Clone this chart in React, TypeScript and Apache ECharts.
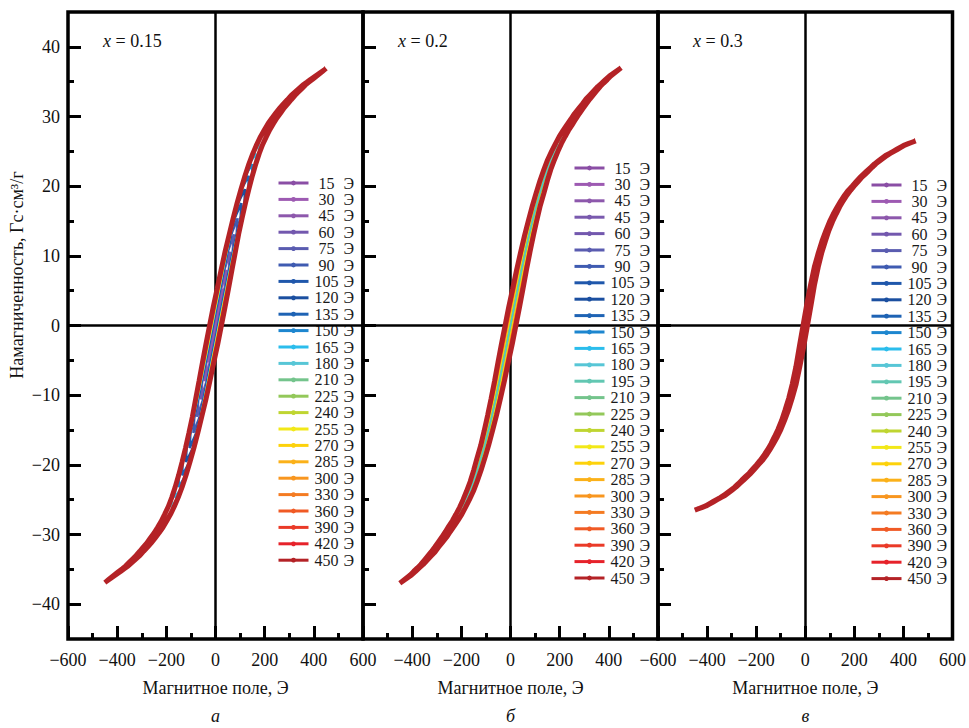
import React, { useEffect, useRef } from 'react';
import * as echarts from 'echarts';

// Field grid (Э) at which the magnetization curves were read
const FIELD_GRID = [0, 15, 30, 45, 60, 75, 90, 105, 120, 135, 150, 165, 180, 195, 210, 225, 240, 255, 270, 285, 300, 315, 330, 345, 360, 375, 390, 405, 420, 435, 450];

// Mid-line magnetization (Гс·см³/г)
const CURVE_015 = [0, 2.7, 5.3, 8.0, 10.6, 13.1, 15.4, 17.6, 19.6, 21.5, 23.2, 24.7, 26.0, 27.1, 28.1, 29.0, 29.8, 30.5, 31.2, 31.8, 32.4, 33.0, 33.5, 34.0, 34.5, 34.9, 35.3, 35.7, 36.1, 36.5, 36.9];
const CURVE_02 = [0, 2.7, 5.3, 8.0, 10.5, 12.9, 15.1, 17.2, 19.0, 20.8, 22.4, 23.8, 25.0, 26.1, 27.1, 28.0, 28.8, 29.6, 30.4, 31.1, 31.8, 32.5, 33.1, 33.7, 34.3, 34.8, 35.3, 35.8, 36.2, 36.6, 37.0];
const CURVE_03 = [0, 3.0, 5.9, 8.4, 10.4, 12.1, 13.6, 14.9, 16.0, 17.0, 17.9, 18.7, 19.4, 20.0, 20.6, 21.2, 21.7, 22.2, 22.7, 23.2, 23.6, 24.0, 24.4, 24.7, 25.0, 25.3, 25.6, 25.9, 26.1, 26.3, 26.5];

// Half separation of the two branches of the 450 Э loop (Э), read at the grid fields
const HALF_WIDTH_015 = [24, 24, 23, 22, 21, 19, 18, 17, 16, 15, 14, 13, 12, 12, 11, 11, 10, 10, 9, 9, 8, 8, 7, 6, 5, 4, 4, 3, 2, 1, 0];
const HALF_WIDTH_02 = [22, 22, 21, 20, 19, 18, 17, 16, 16, 15, 14, 14, 13, 12, 12, 11, 11, 10, 10, 9, 8, 8, 7, 6, 5, 4, 4, 3, 2, 1, 0];
const HALF_WIDTH_03 = [9, 9, 8, 8, 7, 7, 6, 6, 6, 5, 5, 5, 5, 4, 4, 4, 4, 4, 3, 3, 3, 3, 3, 2, 2, 2, 2, 1, 1, 1, 0];

// Maximum fields of the loops (legend entries, Э)
const FIELDS_015 = [15, 30, 45, 60, 75, 90, 105, 120, 135, 150, 165, 180, 210, 225, 240, 255, 270, 285, 300, 330, 360, 390, 420, 450];
const FIELDS_02 = [15, 30, 45, 45, 60, 75, 90, 105, 120, 135, 150, 165, 180, 195, 210, 225, 240, 255, 270, 285, 300, 330, 360, 390, 420, 450];
const FIELDS_03 = [15, 30, 45, 60, 75, 90, 105, 120, 135, 150, 165, 180, 195, 210, 225, 240, 255, 270, 285, 300, 330, 360, 390, 420, 450];

// Estimated coercive fields of each loop (Э)
const COERCIVE_015 = [3, 5, 7, 9, 10, 11, 12, 13, 14, 14, 15, 15, 16, 16, 17, 17, 18, 18, 19, 19, 20, 20, 21, 24];
const COERCIVE_02 = [1, 2, 2, 2, 3, 3, 3, 4, 4, 4, 5, 5, 6, 7, 8, 9, 10, 11, 12, 13, 14, 15, 16, 17, 18, 22];
const COERCIVE_03 = [1, 2, 2, 3, 3, 4, 4, 5, 5, 6, 6, 6, 7, 7, 7, 8, 8, 8, 8, 9, 9, 9, 9, 9, 9];

const Y_LABEL_VALUES = [-40, -30, -20, -10, 0, 10, 20, 30, 40];
const Y_MINOR_VALUES = [-35, -25, -15, -5, 5, 15, 25, 35];

const PANEL_LABELS = ['0.15', '0.2', '0.3'];
const PANEL_LETTERS = ['а', 'б', 'в'];
const Y_TITLE = 'Намагниченность, Гс·см³/г';
const X_TITLE = 'Магнитное поле, Э';

const COLORS: Record<number, string> = {
  15: '#8a4ea5', 30: '#9d5ab2', 45: '#8d58ac', 60: '#7358ae', 75: '#5a5cb0', 90: '#3f5bb1',
  105: '#1f57ab', 120: '#1b4fa0', 135: '#1e63b4', 150: '#1d86cf', 165: '#2bbdec', 180: '#57c6d6',
  195: '#62c7b2', 210: '#74c48c', 225: '#93c85a', 240: '#bfd531', 255: '#f2e818', 270: '#fdd20b',
  285: '#fbb119', 300: '#f8961f', 330: '#f47b22', 360: '#f05a25', 390: '#ea3a28', 420: '#e6222a',
  450: '#b42226',
};

const SERIF = '"Liberation Serif", "Times New Roman", serif';
const fmt = (v: number) => (v < 0 ? '\u2212' + Math.abs(v) : String(v));

function buildLoop(hmax: number, c: number, curve: number[], hw: number[]) {
  const n = FIELD_GRID.indexOf(hmax);
  const pts: number[][] = [];
  for (let i = n; i >= -n; i--) {
    const k = Math.abs(i);
    const s = i < 0 ? -1 : 1;
    const d = Math.min(c, hw[k], hmax - FIELD_GRID[k]);
    pts.push([s * FIELD_GRID[k] - d, s * curve[k]]);
  }
  for (let i = -n; i <= n; i++) {
    const k = Math.abs(i);
    const s = i < 0 ? -1 : 1;
    const d = Math.min(c, hw[k], hmax - FIELD_GRID[k]);
    pts.push([s * FIELD_GRID[k] + d, s * curve[k]]);
  }
  return pts;
}

function buildOption() {
  const panels = [
    { fields: FIELDS_015, curve: CURVE_015, hw: HALF_WIDTH_015, c: COERCIVE_015, legendLeft: 277, legendTop: 175 },
    { fields: FIELDS_02, curve: CURVE_02, hw: HALF_WIDTH_02, c: COERCIVE_02, legendLeft: 573, legendTop: 160 },
    { fields: FIELDS_03, curve: CURVE_03, hw: HALF_WIDTH_03, c: COERCIVE_03, legendLeft: 870, legendTop: 177 },
  ];
  const gridLefts = [68, 363, 658];
  const gridW = 295;
  const grid: any[] = [];
  const xAxis: any[] = [];
  const yAxis: any[] = [];
  const series: any[] = [];
  const legend: any[] = [];
  const graphic: any[] = [];
  const labelMap: Record<string, string> = {};
  const tickStyle = { color: '#000', width: 3 };

  panels.forEach((p, i) => {
    grid.push({ left: gridLefts[i], top: 12, width: gridW, height: 627, show: true, borderColor: '#000', borderWidth: 3.5, backgroundColor: 'transparent' });
    xAxis.push({
      type: 'value', gridIndex: i, position: 'bottom', min: -600, max: 600, interval: 200,
      axisLine: { show: false, onZero: false },
      axisTick: { show: true, inside: true, length: 13, lineStyle: tickStyle },
      minorTick: { show: true, splitNumber: 2, length: 6, lineStyle: tickStyle },
      splitLine: { show: false }, minorSplitLine: { show: false },
      axisLabel: {
        margin: 12, fontFamily: SERIF, fontSize: 18, color: '#111', formatter: fmt,
        showMinLabel: i !== 1, showMaxLabel: i !== 1,
      },
      name: X_TITLE, nameLocation: 'middle', nameGap: 40,
      nameTextStyle: { fontFamily: SERIF, fontSize: 18, color: '#111' },
    });
    yAxis.push({
      type: 'value', gridIndex: i, position: 'left', min: -45, max: 45,
      axisLine: { show: false, onZero: false },
      axisTick: { show: true, inside: true, length: 13, customValues: Y_LABEL_VALUES, lineStyle: tickStyle },
      axisLabel: { show: i === 0, customValues: Y_LABEL_VALUES, margin: 8, fontFamily: SERIF, fontSize: 18, color: '#111', formatter: fmt },
      splitLine: { show: false },
    });
  });
  panels.forEach((p, i) => {
    yAxis.push({
      type: 'value', gridIndex: i, position: 'left', min: -45, max: 45,
      axisLine: { show: false, onZero: false },
      axisTick: { show: true, inside: true, length: 6, customValues: Y_MINOR_VALUES, lineStyle: tickStyle },
      axisLabel: { show: false }, splitLine: { show: false },
    });
  });

  panels.forEach((p, i) => {
    // zero lines
    series.push({
      type: 'line', name: 'zero' + i, xAxisIndex: i, yAxisIndex: i, data: [[0, 0]], silent: true,
      showSymbol: false, lineStyle: { opacity: 0 }, z: 1,
      markLine: {
        silent: true, symbol: 'none', label: { show: false }, animation: false,
        lineStyle: { color: '#000', width: 2.5, type: 'solid' },
        data: [{ xAxis: 0 }, { yAxis: 0 }],
      },
    });
    const names: string[] = [];
    p.fields.forEach((f, k) => {
      const name = `p${i}-${k}`;
      names.push(name);
      labelMap[name] = String(f);
      let color = COLORS[f];
      if (i === 1 && k === 3) color = '#7a5aae';
      const isMax = k === p.fields.length - 1;
      series.push({
        type: 'line', name, xAxisIndex: i, yAxisIndex: i,
        data: buildLoop(f, p.c[k], p.curve, p.hw),
        showSymbol: false, symbol: 'circle', symbolSize: 4,
        lineStyle: { width: isMax ? 5 : 2.5, color },
        itemStyle: { color },
        z: 6, silent: true,
      });
    });
    legend.push({
      orient: 'vertical', left: p.legendLeft, top: p.legendTop, data: names,
      itemWidth: 30, itemHeight: 6, itemGap: 0.4, padding: 0, selectedMode: false,
      lineStyle: { width: 3 },
      formatter: (name: string) => `{n|${labelMap[name]}} Э`,
      textStyle: {
        fontFamily: SERIF, fontSize: 16, lineHeight: 16, color: '#1a1a1a',
        rich: { n: { width: 26, align: 'right', fontFamily: SERIF, fontSize: 16, lineHeight: 16, color: '#1a1a1a' } },
      },
    });
    graphic.push({
      type: 'text', left: gridLefts[i] + 35, top: 32,
      style: {
        text: `{i|x} = ${PANEL_LABELS[i]}`, fontFamily: SERIF, fontSize: 18, fill: '#111',
        rich: { i: { fontStyle: 'italic', fontFamily: SERIF, fontSize: 18, fill: '#111' } },
      },
    });
    graphic.push({
      type: 'text', x: gridLefts[i] + gridW / 2, y: 716,
      style: { text: PANEL_LETTERS[i], fontFamily: SERIF, fontSize: 18, fontStyle: 'italic', fill: '#111', textAlign: 'center', textVerticalAlign: 'middle' },
    });
  });
  graphic.push({
    type: 'text', x: 17, y: 275, rotation: Math.PI / 2,
    style: { text: Y_TITLE, fontFamily: SERIF, fontSize: 18, fill: '#111', textAlign: 'center', textVerticalAlign: 'middle' },
  });

  return { animation: false, backgroundColor: '#fff', grid, xAxis, yAxis, series, legend, graphic };
}

export default function App() {
  const ref = useRef<HTMLDivElement>(null);
  useEffect(() => {
    const chart = echarts.init(ref.current!, null, { renderer: 'svg' });
    chart.setOption(buildOption() as any);
    return () => chart.dispose();
  }, []);
  return <div ref={ref} style={{ position: 'absolute', left: 0, top: 0, width: 969, height: 728 }} />;
}
